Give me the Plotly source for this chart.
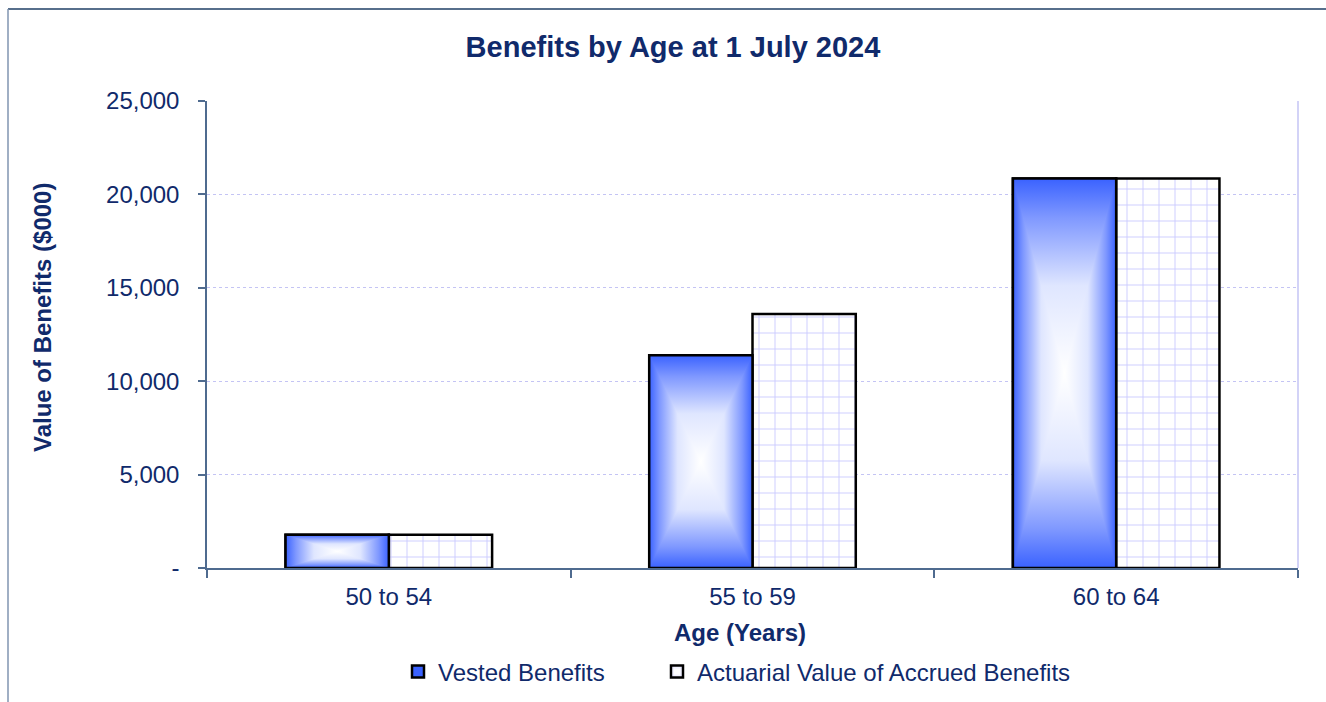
import plotly.graph_objects as go

categories = ["50 to 54", "55 to 59", "60 to 64"]
vested = [1780, 11390, 20850]
accrued = [1780, 13600, 20850]
y_ticks = [0, 5000, 10000, 15000, 20000, 25000]
y_ticktext = ["-", "5,000", "10,000", "15,000", "20,000", "25,000"]

NAVY = "#102a6b"
BLUE = "#3a62ff"
AXIS = "#4f6b8f"
GRID = "#c4c4f4"
FONT = "Liberation Sans, Arial, sans-serif"

idx = list(range(len(categories)))
w = 0.284

# rectangular "from centre" gradient: white centre -> blue edge
CS_OUT = [[0, "#ffffff"], [0.45, "#dfe6ff"], [0.8, "#7f98ff"], [1, BLUE]]
CS_IN = [[1 - p, c] for p, c in reversed(CS_OUT)]
CS_SYM = sorted([[0.5 - p / 2, c] for p, c in CS_OUT[1:]] + [[0.5, CS_OUT[0][1]]]
                + [[0.5 + p / 2, c] for p, c in CS_OUT[1:]])

fig = go.Figure()
fig.add_trace(go.Bar(
    x=idx, y=vested, width=w, offset=-w, name="Vested Benefits",
    marker=dict(color=BLUE, line=dict(color="black", width=2.5)),
    hoverinfo="skip", legend="legend",
))
fig.add_trace(go.Bar(
    x=idx, y=accrued, width=w, offset=0, name="Actuarial Value of Accrued Benefits",
    marker=dict(color="white", line=dict(color="black", width=2.5),
                pattern=dict(shape="+", size=16, solidity=0.12,
                             fgcolor="#9c9cff", bgcolor="white", fillmode="overlay")),
    hoverinfo="skip", legend="legend2",
))


def poly(xs, ys, gtype, cs):
    fig.add_trace(go.Scatter(
        x=xs, y=ys, mode="none", fill="toself",
        fillgradient=dict(type=gtype, colorscale=cs),
        showlegend=False, hoverinfo="skip",
    ))


for i, v in zip(idx, vested):
    x0, x1, xc, yc = i - w, i, i - w / 2, v / 2
    poly([x0, x1, x1, x0, x0], [0, 0, v, v, 0], "horizontal", CS_SYM)  # sides
    poly([x0, x1, xc, x0], [v, v, yc, v], "vertical", CS_OUT)          # top
    poly([x0, x1, xc, x0], [0, 0, yc, 0], "vertical", CS_IN)           # bottom
    fig.add_trace(go.Scatter(
        x=[x0, x1, x1, x0, x0], y=[0, 0, v, v, 0], mode="lines",
        line=dict(color="black", width=2.5), showlegend=False, hoverinfo="skip",
    ))

legend_common = dict(orientation="h", y=-0.2227, yanchor="middle", xanchor="left",
                     font=dict(size=24, color=NAVY), itemwidth=30, bgcolor="rgba(0,0,0,0)")

fig.update_layout(
    width=1326, height=702,
    margin=dict(l=207, r=28, t=101, b=134, autoexpand=False),
    paper_bgcolor="white", plot_bgcolor="white",
    barmode="overlay",
    font=dict(family=FONT, size=24, color=NAVY),
    title=dict(text="<b>Benefits by Age at 1 July 2024</b>", x=673 / 1326, xref="container",
               xanchor="center", y=1 - 47 / 702, yref="container", yanchor="middle",
               font=dict(size=29, color=NAVY)),
    showlegend=True,
    legend=dict(x=(398 - 207) / 1091, **legend_common),
    legend2=dict(x=(657 - 207) / 1091, **legend_common),
)
fig.update_xaxes(
    range=[-0.5, len(categories) - 0.5],
    tickmode="array", tickvals=idx, ticktext=categories, ticks="",
    showline=True, linecolor=AXIS, linewidth=1.5, showgrid=False, zeroline=False,
    tickfont=dict(size=24, color=NAVY), ticklabelstandoff=6,
    minor=dict(tickmode="linear", tick0=-0.5, dtick=1, ticks="outside", ticklen=8,
               tickcolor=AXIS, tickwidth=1.5, showgrid=False),
)
fig.update_yaxes(
    range=[0, 25000], tickmode="array", tickvals=y_ticks, ticktext=y_ticktext,
    ticks="outside", ticklen=7, tickcolor=AXIS, tickwidth=1.5,
    showline=True, linecolor=AXIS, linewidth=1.5,
    showgrid=True, gridcolor=GRID, griddash="dot", gridwidth=1, zeroline=False,
    tickfont=dict(size=24, color=NAVY), ticklabelstandoff=14,
)
# right border of plot area
fig.add_shape(type="line", xref="paper", yref="paper", x0=1, x1=1, y0=0, y1=1,
              line=dict(color=GRID, width=1.5))
# outer chart frame
fig.add_shape(type="line", xref="paper", yref="paper", x0=(8 - 207) / 1091, x1=1.1,
              y0=1 + (101 - 9) / 467, y1=1 + (101 - 9) / 467,
              line=dict(color="#1f3f66", width=1.5))
fig.add_shape(type="line", xref="paper", yref="paper", x0=(8 - 207) / 1091, x1=(8 - 207) / 1091,
              y0=1 + (101 - 9) / 467, y1=-0.5, line=dict(color="#8095b0", width=1.5))
# axis titles
fig.add_annotation(text="<b>Value of Benefits ($000)</b>", xref="paper", yref="paper",
                   x=(42 - 207) / 1091, y=(568 - 318) / 467, textangle=-90,
                   showarrow=False, font=dict(size=24, color=NAVY),
                   xanchor="center", yanchor="middle")
fig.add_annotation(text="<b>Age (Years)</b>", xref="paper", yref="paper",
                   x=(740 - 207) / 1091, y=(568 - 632) / 467,
                   showarrow=False, font=dict(size=24, color=NAVY),
                   xanchor="center", yanchor="middle")

fig.write_html("out.html")
